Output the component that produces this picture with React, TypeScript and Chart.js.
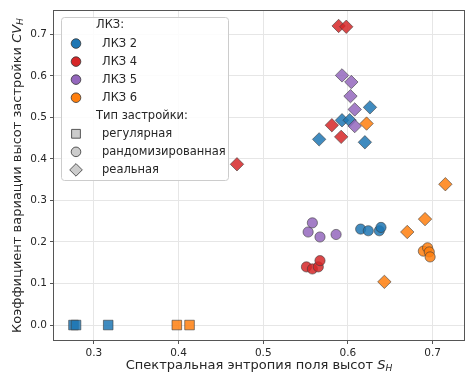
import React, { useEffect, useRef } from 'react';
import { Chart, registerables } from 'chart.js';

Chart.register(...registerables);

// Axis ticks
const xTicks = [0.3, 0.4, 0.5, 0.6, 0.7];
const yTicks = [0.0, 0.1, 0.2, 0.3, 0.4, 0.5, 0.6, 0.7];

// Zones (ЛКЗ) and colours
const zoneNames = ['ЛКЗ 2', 'ЛКЗ 4', 'ЛКЗ 5', 'ЛКЗ 6'];
const zoneColors = ['#1f77b4', '#d62728', '#9467bd', '#ff7f0e'];

// Building layout types
const layoutNames = ['регулярная', 'рандомизированная', 'реальная'];
const layoutStyles = ['rect', 'circle', 'rectRot'];

// ЛКЗ 2
const lkz2RegularX = [0.276, 0.279, 0.317];
const lkz2RegularY = [0.0, 0.0, 0.0];
const lkz2RandomX = [0.615, 0.624, 0.637, 0.639];
const lkz2RandomY = [0.231, 0.227, 0.227, 0.235];
const lkz2RealX = [0.626, 0.593, 0.602, 0.566, 0.620];
const lkz2RealY = [0.524, 0.493, 0.493, 0.447, 0.440];

// ЛКЗ 4
const lkz4RegularX: number[] = [];
const lkz4RegularY: number[] = [];
const lkz4RandomX = [0.551, 0.558, 0.565, 0.567];
const lkz4RandomY = [0.140, 0.135, 0.140, 0.155];
const lkz4RealX = [0.589, 0.598, 0.581, 0.592, 0.469];
const lkz4RealY = [0.720, 0.718, 0.481, 0.453, 0.387];

// ЛКЗ 5
const lkz5RegularX: number[] = [];
const lkz5RegularY: number[] = [];
const lkz5RandomX = [0.553, 0.558, 0.567, 0.586];
const lkz5RandomY = [0.224, 0.246, 0.212, 0.218];
const lkz5RealX = [0.593, 0.604, 0.603, 0.608, 0.608];
const lkz5RealY = [0.601, 0.585, 0.551, 0.519, 0.479];

// ЛКЗ 6
const lkz6RegularX = [0.398, 0.413];
const lkz6RegularY = [0.0, 0.0];
const lkz6RandomX = [0.689, 0.694, 0.696, 0.697];
const lkz6RandomY = [0.178, 0.186, 0.176, 0.164];
const lkz6RealX = [0.622, 0.715, 0.691, 0.670, 0.643];
const lkz6RealY = [0.485, 0.339, 0.255, 0.224, 0.104];

const zoneSeries = [
  [[lkz2RegularX, lkz2RegularY], [lkz2RandomX, lkz2RandomY], [lkz2RealX, lkz2RealY]],
  [[lkz4RegularX, lkz4RegularY], [lkz4RandomX, lkz4RandomY], [lkz4RealX, lkz4RealY]],
  [[lkz5RegularX, lkz5RegularY], [lkz5RandomX, lkz5RandomY], [lkz5RealX, lkz5RealY]],
  [[lkz6RegularX, lkz6RegularY], [lkz6RandomX, lkz6RandomY], [lkz6RealX, lkz6RealY]],
];

const FONT = '"DejaVu Sans", sans-serif';
const TEXT = '#262626';
const markerRadius: Record<string, number> = { rect: 6.8, circle: 5.1, rectRot: 6.7 };

function withAlpha(hex: string, a: number) {
  const n = parseInt(hex.slice(1), 16);
  return `rgba(${(n >> 16) & 255},${(n >> 8) & 255},${n & 255},${a})`;
}

// text with a math-style italic symbol and subscript, centred on (0,0)
function drawRichLabel(ctx: CanvasRenderingContext2D, plain: string, sym: string, sub: string, size: number) {
  const normal = `${size}px ${FONT}`;
  const ital = `italic ${size}px ${FONT}`;
  const subFont = `italic ${size * 0.7}px ${FONT}`;
  ctx.font = normal;
  const w1 = ctx.measureText(plain).width;
  ctx.font = ital;
  const w2 = ctx.measureText(sym).width;
  ctx.font = subFont;
  const w3 = ctx.measureText(sub).width;
  let x = -(w1 + w2 + w3) / 2;
  ctx.textAlign = 'left';
  ctx.textBaseline = 'middle';
  ctx.fillStyle = TEXT;
  ctx.font = normal;
  ctx.fillText(plain, x, 0);
  x += w1;
  ctx.font = ital;
  ctx.fillText(sym, x, 0);
  x += w2;
  ctx.font = subFont;
  ctx.fillText(sub, x, size * 0.22);
}

function drawMarker(ctx: CanvasRenderingContext2D, style: string, x: number, y: number, r: number, fill: string, stroke: string) {
  ctx.beginPath();
  if (style === 'circle') {
    ctx.arc(x, y, r, 0, Math.PI * 2);
  } else if (style === 'rect') {
    ctx.rect(x - r, y - r, 2 * r, 2 * r);
  } else {
    ctx.moveTo(x, y - r);
    ctx.lineTo(x + r, y);
    ctx.lineTo(x, y + r);
    ctx.lineTo(x - r, y);
    ctx.closePath();
  }
  ctx.fillStyle = fill;
  ctx.fill();
  ctx.lineWidth = 0.8;
  ctx.strokeStyle = stroke;
  ctx.stroke();
}

const decorPlugin = {
  id: 'decor',
  afterDraw(chart: any) {
    const ctx: CanvasRenderingContext2D = chart.ctx;
    const a = chart.chartArea;
    ctx.save();

    // frame
    ctx.strokeStyle = '#555555';
    ctx.lineWidth = 1;
    ctx.strokeRect(Math.round(a.left) - 0.5, Math.round(a.top) - 0.5, a.right - a.left + 1, a.bottom - a.top + 1);

    // axis titles
    ctx.save();
    ctx.translate((a.left + a.right) / 2, 366);
    drawRichLabel(ctx, 'Спектральная энтропия поля высот ', 'S', 'H', 13);
    ctx.restore();

    ctx.save();
    ctx.translate(18, (a.top + a.bottom) / 2);
    ctx.rotate(-Math.PI / 2);
    drawRichLabel(ctx, 'Коэффициент вариации высот застройки ', 'CV', 'H', 13);
    ctx.restore();

    // legend
    const lx = 61, ly = 17, lw = 167, lh = 163;
    ctx.beginPath();
    ctx.roundRect(lx + 0.5, ly + 0.5, lw, lh, 3);
    ctx.fillStyle = 'rgba(255,255,255,0.85)';
    ctx.fill();
    ctx.strokeStyle = '#cccccc';
    ctx.lineWidth = 1;
    ctx.stroke();

    const headerX = 96, markX = 76, textX = 102, step = 18.05;
    ctx.font = `11.5px ${FONT}`;
    ctx.textAlign = 'left';
    ctx.textBaseline = 'middle';
    let y = 25.5;
    ctx.fillStyle = TEXT;
    ctx.fillText('ЛКЗ:', headerX, y);
    zoneNames.forEach((name, i) => {
      y += step;
      drawMarker(ctx, 'circle', markX, y, 4.8, zoneColors[i], '#333333');
      ctx.fillStyle = TEXT;
      ctx.font = `11.5px ${FONT}`;
      ctx.fillText(name, textX, y);
    });
    y += step;
    ctx.fillStyle = TEXT;
    ctx.fillText('Тип застройки:', headerX, y);
    layoutNames.forEach((name, i) => {
      y += step;
      const st = layoutStyles[i];
      const r = st === 'rect' ? 4.4 : st === 'circle' ? 4.8 : 6.3;
      drawMarker(ctx, st, markX, y, r, '#cccccc', '#333333');
      ctx.fillStyle = TEXT;
      ctx.font = `11.5px ${FONT}`;
      ctx.fillText(name, textX, y);
    });

    ctx.restore();
  },
};

export default function App() {
  const ref = useRef<HTMLCanvasElement>(null);

  useEffect(() => {
    document.body.style.margin = '0';
    const canvas = ref.current;
    if (!canvas) return;

    const datasets: any[] = [];
    zoneSeries.forEach((series, zi) => {
      series.forEach(([xs, ys], li) => {
        if (!xs.length) return;
        const style = layoutStyles[li];
        datasets.push({
          label: `${zoneNames[zi]} — ${layoutNames[li]}`,
          data: xs.map((x, k) => ({ x, y: ys[k] })),
          pointStyle: style,
          pointRadius: markerRadius[style],
          pointHoverRadius: markerRadius[style],
          backgroundColor: withAlpha(zoneColors[zi], 0.85),
          borderColor: 'rgba(60,60,60,0.75)',
          borderWidth: 0.8,
          showLine: false,
        });
      });
    });
    // first dataset is painted on top in Chart.js, so reverse to paint later zones above
    datasets.reverse();

    const chart = new Chart(canvas, {
      type: 'scatter',
      data: { datasets },
      plugins: [decorPlugin],
      options: {
        responsive: false,
        devicePixelRatio: 1,
        animation: false,
        layout: { autoPadding: false, padding: { top: 11, right: 1, left: 0, bottom: 0 } },
        plugins: {
          legend: { display: false },
          tooltip: { enabled: false },
        },
        scales: {
          x: {
            type: 'linear',
            min: 0.253,
            max: 0.737,
            afterBuildTicks: (s: any) => { s.ticks = xTicks.map((v) => ({ value: v })); },
            afterFit: (s: any) => { s.height = 35; s.paddingLeft = 0; s.paddingRight = 0; },
            grid: { color: '#e6e6e6', lineWidth: 1, tickLength: 4, tickColor: '#555555' },
            border: { display: false },
            ticks: {
              font: { family: FONT, size: 10.5 },
              color: TEXT,
              padding: 3,
              maxRotation: 0,
              callback: (v: any) => Number(v).toFixed(1),
            },
          },
          y: {
            type: 'linear',
            min: -0.036,
            max: 0.756,
            afterBuildTicks: (s: any) => { s.ticks = yTicks.map((v) => ({ value: v })); },
            afterFit: (s: any) => { s.width = 54; s.paddingTop = 0; s.paddingBottom = 0; },
            grid: { color: '#e6e6e6', lineWidth: 1, tickLength: 4, tickColor: '#555555' },
            border: { display: false },
            ticks: {
              font: { family: FONT, size: 10.5 },
              color: TEXT,
              padding: 3,
              callback: (v: any) => Number(v).toFixed(1),
            },
          },
        },
      },
    });
    return () => chart.destroy();
  }, []);

  return (
    <div style={{ width: 465, height: 375 }}>
      <canvas ref={ref} width={465} height={375} />
    </div>
  );
}
